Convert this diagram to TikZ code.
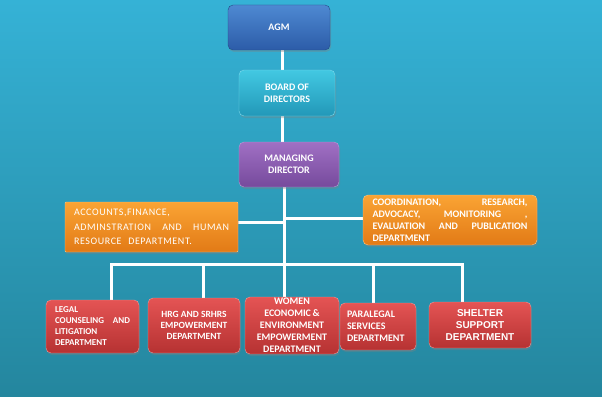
\documentclass[tikz,border=0pt]{standalone}
\usepackage{fontspec}
\setmainfont{Carlito}
\newfontfamily\arialfont{Liberation Sans}
\usetikzlibrary{shadows}
\definecolor{bgtop}{RGB}{53,178,214}
\definecolor{bgbot}{RGB}{36,134,158}
\definecolor{bluetop}{RGB}{78,137,210}
\definecolor{bluebot}{RGB}{44,92,168}
\definecolor{cyantop}{RGB}{66,200,226}
\definecolor{cyanbot}{RGB}{34,152,184}
\definecolor{purtop}{RGB}{160,112,196}
\definecolor{purbot}{RGB}{118,74,156}
\definecolor{ortop}{RGB}{250,164,52}
\definecolor{orbot}{RGB}{226,122,22}
\definecolor{redtop}{RGB}{228,84,84}
\definecolor{redbot}{RGB}{182,50,50}
\pgfdeclarelayer{back}
\pgfdeclarelayer{lines}
\pgfsetlayers{back,lines,main}
\begin{document}
\begin{tikzpicture}[x=1pt,y=-1pt,
  box/.style={rounded corners=5pt, inner sep=0pt, text=white, align=center,
    font=\bfseries\fontsize{10}{12}\selectfont,
    drop shadow={opacity=0.35,shadow xshift=1pt,shadow yshift=-2pt}},
  bluebox/.style={box, top color=bluetop, bottom color=bluebot, draw=bluebot!80!black},
  cyanbox/.style={box, top color=cyantop, bottom color=cyanbot, draw=cyantop!70!white},
  purbox/.style={box, top color=purtop, bottom color=purbot, draw=purtop!70!white},
  orbox/.style={box, top color=ortop, bottom color=orbot, draw=ortop!60!white},
  redbox/.style={box, top color=redtop, bottom color=redbot, draw=redtop!60!white},
  conn/.style={white, line width=3pt}
]
\begin{pgfonlayer}{back}
\shade[top color=bgtop,bottom color=bgbot] (0,0) rectangle (602,396);
\end{pgfonlayer}
\useasboundingbox (0,0) rectangle (602,396);

\node[bluebox, minimum width=102pt, minimum height=45pt] (agm) at (279,27.5) {AGM};
\node[cyanbox, minimum width=96pt, minimum height=46pt] (board) at (287,93) {BOARD OF\\DIRECTORS};
\node[purbox, minimum width=100pt, minimum height=45pt] (md) at (289,164.5) {MANAGING\\DIRECTOR};

\node[orbox, rounded corners=1pt, minimum width=173pt, minimum height=50pt, text width=155pt, align=left,
  font=\mdseries\fontsize{10}{14.5}\selectfont\addfontfeature{LetterSpace=6}] (acc) at (151.5,227)
  {ACCOUNTS,FINANCE,\\ ADMINSTRATION\hfill AND\hfill HUMAN\\ RESOURCE\ \ DEPARTMENT.};
\node[orbox, minimum width=174pt, minimum height=50pt, text width=155pt, align=left] (coord) at (450,220)
  {COORDINATION,\hfill RESEARCH,\\ ADVOCACY,\hfill MONITORING\hfill ,\\ EVALUATION\hfill AND\hfill PUBLICATION\\ DEPARTMENT};

\node[redbox, minimum width=93pt, minimum height=53pt, text width=75pt, align=left,
  font=\bfseries\fontsize{9}{11}\selectfont] (legal) at (92.5,326.5)
  {LEGAL\\ COUNSELING\hfill AND\\ LITIGATION\\ DEPARTMENT};
\node[redbox, minimum width=92pt, minimum height=55pt,
  font=\bfseries\fontsize{9.5}{11}\selectfont] (hrg) at (194,325.5)
  {HRG AND SRHRS\\ EMPOWERMENT\\ DEPARTMENT};
\node[redbox, minimum width=94pt, minimum height=57pt] (women) at (292,325.5)
  {WOMEN\\ ECONOMIC\,\&\\ ENVIRONMENT\\ EMPOWERMENT\\ DEPARTMENT};
\node[redbox, minimum width=76pt, minimum height=47pt, text width=62pt, align=left] (para) at (378,326.5)
  {PARALEGAL\\ SERVICES\\ DEPARTMENT};
\node[redbox, minimum width=102pt, minimum height=46pt,
  font=\arialfont\bfseries\fontsize{10}{12}\selectfont] (shelter) at (480,325)
  {SHELTER\\ SUPPORT\\ DEPARTMENT};

\coordinate (tx) at (282,0);
\coordinate (trunk) at (284,0);
\coordinate (bar) at (0,264);
\coordinate (accy) at (0,222);
\coordinate (coordy) at (0,218);
\coordinate (x1) at (111,0);
\coordinate (x2) at (203,0);
\coordinate (x4) at (373,0);
\coordinate (x5) at (462,0);

\begin{pgfonlayer}{lines}
\draw[conn] (agm.south -| tx) -- (board.north -| tx);
\draw[conn] (board.south -| tx) -- (md.north -| tx);
\draw[conn] (md.south -| trunk) -- (women.north -| trunk);
\draw[conn] (acc.east |- accy) -- (trunk |- accy);
\draw[conn] (trunk |- coordy) -- (coord.west |- coordy);
\draw[conn] (legal.north -| x1) -- (x1 |- bar) -- (x5 |- bar) -- (shelter.north -| x5);
\draw[conn] (x2 |- bar) -- (hrg.north -| x2);
\draw[conn] (x4 |- bar) -- (para.north -| x4);
\end{pgfonlayer}
\end{tikzpicture}
\end{document}
